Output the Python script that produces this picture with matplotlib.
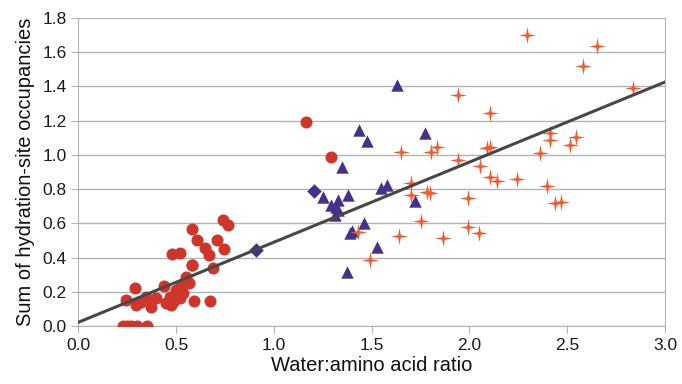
import matplotlib
matplotlib.use("Agg")
import matplotlib.pyplot as plt
from matplotlib.path import Path
import numpy as np

plt.rcParams['font.family'] = ['Liberation Sans', 'DejaVu Sans']

# red circles
circ_x = [0.23, 0.25, 0.27, 0.30, 0.35, 0.245, 0.296, 0.321, 0.347, 0.372, 0.398,
          0.287, 0.44, 0.449, 0.466, 0.474, 0.483, 0.50, 0.517, 0.534, 0.526,
          0.551, 0.568, 0.593, 0.673, 0.582, 0.687, 0.478, 0.522, 0.58, 0.607,
          0.707, 0.645, 0.67, 0.747, 0.738, 0.764, 0.58, 1.163, 1.29]
circ_y = [0.0, 0.0, 0.0, 0.0, 0.0, 0.152, 0.123, 0.138, 0.171, 0.113, 0.161,
          0.22, 0.231, 0.132, 0.171, 0.123, 0.142, 0.21, 0.161, 0.191, 0.24,
          0.288, 0.249, 0.148, 0.148, 0.357, 0.337, 0.419, 0.428, 0.567, 0.503,
          0.503, 0.454, 0.415, 0.448, 0.619, 0.59, 0.357, 1.19, 0.99]

# purple triangles
tri_x = [1.628, 1.435, 1.478, 1.772, 1.347, 1.546, 1.58, 1.252, 1.381, 1.33,
         1.29, 1.32, 1.31, 1.33, 1.724, 1.461, 1.40, 1.39, 1.529, 1.372]
tri_y = [1.409, 1.146, 1.081, 1.126, 0.931, 0.805, 0.824, 0.756, 0.766, 0.737,
         0.707, 0.697, 0.649, 0.678, 0.731, 0.604, 0.555, 0.542, 0.464, 0.317]

# purple diamonds
dia_x = [0.91, 1.206]
dia_y = [0.444, 0.791]

# orange stars
star_x = [2.294, 2.651, 2.583, 2.835, 1.94, 2.107, 2.413, 2.413, 2.546, 2.512,
          2.362, 1.648, 1.801, 1.835, 2.09, 2.107, 1.94, 2.053, 2.107, 2.141,
          2.243, 2.396, 1.699, 1.699, 1.784, 1.798, 1.993, 2.439, 2.468, 1.753,
          1.993, 2.051, 1.639, 1.866, 1.43, 1.49]
star_y = [1.701, 1.638, 1.52, 1.389, 1.348, 1.247, 1.127, 1.088, 1.103, 1.058,
          1.009, 1.019, 1.019, 1.048, 1.039, 1.044, 0.97, 0.937, 0.873, 0.85,
          0.857, 0.818, 0.838, 0.766, 0.785, 0.775, 0.746, 0.717, 0.727, 0.616,
          0.581, 0.542, 0.526, 0.512, 0.551, 0.386]

# trend line
trend_x = [0.0, 3.0]
trend_y = [0.022, 1.426]

# slim 4-point star marker
ang = np.arange(8) * np.pi / 4 + np.pi / 2
rad = np.where(np.arange(8) % 2 == 0, 1.0, 0.22)
star_verts = np.column_stack([rad * np.cos(ang), rad * np.sin(ang)])
star_marker = Path(np.vstack([star_verts, star_verts[:1]]), closed=True)

fig = plt.figure(figsize=(6.82, 3.84), dpi=100)
ax = fig.add_axes([0.115, 0.151, 0.86, 0.802])

ax.scatter(circ_x, circ_y, s=75, c='#d0352b', marker='o', linewidths=0, zorder=3)
ax.scatter(tri_x, tri_y, s=80, c='#46318a', marker='^', linewidths=0, zorder=3)
ax.scatter(dia_x, dia_y, s=55, c='#46318a', marker='D', linewidths=0, zorder=3)
ax.scatter(star_x, star_y, s=150, c='#f4582b', marker=star_marker, linewidths=0, zorder=3)
ax.plot(trend_x, trend_y, color='#474747', lw=2.2, zorder=4)

ax.set_xlim(0, 3.0)
ax.set_ylim(0, 1.8)
ax.set_xticks(np.arange(0, 3.01, 0.5))
ax.set_yticks(np.arange(0, 1.81, 0.2))
ax.xaxis.set_major_formatter(matplotlib.ticker.FormatStrFormatter('%.1f'))
ax.yaxis.set_major_formatter(matplotlib.ticker.FormatStrFormatter('%.1f'))
ax.grid(axis='y', color='#b3b3b3', lw=1)
ax.set_axisbelow(True)
for s in ['left', 'right', 'bottom']:
    ax.spines[s].set_color('#b3b3b3')
ax.spines['top'].set_visible(False)
ax.tick_params(colors='#b3b3b3', labelcolor='#1a1a1a', labelsize=12.5, length=5)

ax.set_xlabel('Water:amino acid ratio', fontsize=14.5, color='#111111', labelpad=2)
ax.set_ylabel('Sum of hydration-site occupancies', fontsize=14.5, color='#111111', labelpad=5)

fig.savefig('out.png', dpi=100)
